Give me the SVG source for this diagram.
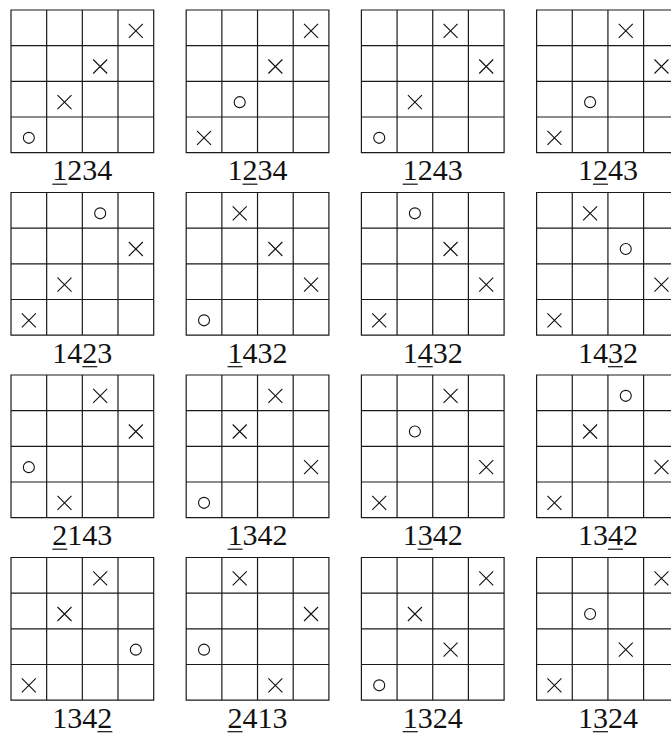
<svg xmlns="http://www.w3.org/2000/svg" width="671" height="734" viewBox="0 0 671 734">
<style>
.grid{fill:none;stroke:#1a1a1a;stroke-width:1.2}
.mk{fill:none;stroke:#111;stroke-width:1.1}
text{font-family:'Liberation Serif','DejaVu Serif',serif;font-size:30px;fill:#111;text-anchor:middle}
.ul{stroke:#111;stroke-width:1.2}
</style>
<defs>
<path id="g" class="grid" d="M0,0H142.7V142.7H0Z M35.67,0V142.7 M71.33,0V142.7 M107,0V142.7 M0,35.67H142.7 M0,71.33H142.7 M0,107H142.7"/>
<path id="x" class="mk" d="M-7,-7L7,7M-7,7L7,-7"/>
<circle id="o" class="mk" r="5.5"/>
</defs>
<rect width="671" height="734" fill="#fff"/>

<g id="p1" transform="translate(11,10)"><use href="#g"/>
<use href="#x" x="124.83" y="20.83"/><use href="#x" x="89.17" y="56.5"/><use href="#x" x="53.5" y="92.17"/><use href="#o" x="17.83" y="127.83"/>
<text font-family="Liberation Serif" x="71.33" y="170.2">1234</text><line class="ul" x1="41.33" y1="174.2" x2="56.33" y2="174.2"/></g>

<g id="p2" transform="translate(186.2,10)"><use href="#g"/>
<use href="#x" x="124.83" y="20.83"/><use href="#x" x="89.17" y="56.5"/><use href="#o" x="53.5" y="92.17"/><use href="#x" x="17.83" y="127.83"/>
<text font-family="Liberation Serif" x="71.33" y="170.2">1234</text><line class="ul" x1="56.33" y1="174.2" x2="71.33" y2="174.2"/></g>

<g id="p3" transform="translate(361.4,10)"><use href="#g"/>
<use href="#x" x="89.17" y="20.83"/><use href="#x" x="124.83" y="56.5"/><use href="#x" x="53.5" y="92.17"/><use href="#o" x="17.83" y="127.83"/>
<text font-family="Liberation Serif" x="71.33" y="170.2">1243</text><line class="ul" x1="41.33" y1="174.2" x2="56.33" y2="174.2"/></g>

<g id="p4" transform="translate(536.6,10)"><use href="#g"/>
<use href="#x" x="89.17" y="20.83"/><use href="#x" x="124.83" y="56.5"/><use href="#o" x="53.5" y="92.17"/><use href="#x" x="17.83" y="127.83"/>
<text font-family="Liberation Serif" x="71.33" y="170.2">1243</text><line class="ul" x1="56.33" y1="174.2" x2="71.33" y2="174.2"/></g>

<g id="p5" transform="translate(11,192.5)"><use href="#g"/>
<use href="#o" x="89.17" y="20.83"/><use href="#x" x="124.83" y="56.5"/><use href="#x" x="53.5" y="92.17"/><use href="#x" x="17.83" y="127.83"/>
<text font-family="Liberation Serif" x="71.33" y="170.2">1423</text><line class="ul" x1="71.33" y1="174.2" x2="86.33" y2="174.2"/></g>

<g id="p6" transform="translate(186.2,192.5)"><use href="#g"/>
<use href="#x" x="53.5" y="20.83"/><use href="#x" x="89.17" y="56.5"/><use href="#x" x="124.83" y="92.17"/><use href="#o" x="17.83" y="127.83"/>
<text font-family="Liberation Serif" x="71.33" y="170.2">1432</text><line class="ul" x1="41.33" y1="174.2" x2="56.33" y2="174.2"/></g>

<g id="p7" transform="translate(361.4,192.5)"><use href="#g"/>
<use href="#o" x="53.5" y="20.83"/><use href="#x" x="89.17" y="56.5"/><use href="#x" x="124.83" y="92.17"/><use href="#x" x="17.83" y="127.83"/>
<text font-family="Liberation Serif" x="71.33" y="170.2">1432</text><line class="ul" x1="56.33" y1="174.2" x2="71.33" y2="174.2"/></g>

<g id="p8" transform="translate(536.6,192.5)"><use href="#g"/>
<use href="#x" x="53.5" y="20.83"/><use href="#o" x="89.17" y="56.5"/><use href="#x" x="124.83" y="92.17"/><use href="#x" x="17.83" y="127.83"/>
<text font-family="Liberation Serif" x="71.33" y="170.2">1432</text><line class="ul" x1="71.33" y1="174.2" x2="86.33" y2="174.2"/></g>

<g id="p9" transform="translate(11,375)"><use href="#g"/>
<use href="#x" x="89.17" y="20.83"/><use href="#x" x="124.83" y="56.5"/><use href="#o" x="17.83" y="92.17"/><use href="#x" x="53.5" y="127.83"/>
<text font-family="Liberation Serif" x="71.33" y="170.2">2143</text><line class="ul" x1="41.33" y1="174.2" x2="56.33" y2="174.2"/></g>

<g id="p10" transform="translate(186.2,375)"><use href="#g"/>
<use href="#x" x="89.17" y="20.83"/><use href="#x" x="53.5" y="56.5"/><use href="#x" x="124.83" y="92.17"/><use href="#o" x="17.83" y="127.83"/>
<text font-family="Liberation Serif" x="71.33" y="170.2">1342</text><line class="ul" x1="41.33" y1="174.2" x2="56.33" y2="174.2"/></g>

<g id="p11" transform="translate(361.4,375)"><use href="#g"/>
<use href="#x" x="89.17" y="20.83"/><use href="#o" x="53.5" y="56.5"/><use href="#x" x="124.83" y="92.17"/><use href="#x" x="17.83" y="127.83"/>
<text font-family="Liberation Serif" x="71.33" y="170.2">1342</text><line class="ul" x1="56.33" y1="174.2" x2="71.33" y2="174.2"/></g>

<g id="p12" transform="translate(536.6,375)"><use href="#g"/>
<use href="#o" x="89.17" y="20.83"/><use href="#x" x="53.5" y="56.5"/><use href="#x" x="124.83" y="92.17"/><use href="#x" x="17.83" y="127.83"/>
<text font-family="Liberation Serif" x="71.33" y="170.2">1342</text><line class="ul" x1="71.33" y1="174.2" x2="86.33" y2="174.2"/></g>

<g id="p13" transform="translate(11,557.5)"><use href="#g"/>
<use href="#x" x="89.17" y="20.83"/><use href="#x" x="53.5" y="56.5"/><use href="#o" x="124.83" y="92.17"/><use href="#x" x="17.83" y="127.83"/>
<text font-family="Liberation Serif" x="71.33" y="170.2">1342</text><line class="ul" x1="86.33" y1="174.2" x2="101.33" y2="174.2"/></g>

<g id="p14" transform="translate(186.2,557.5)"><use href="#g"/>
<use href="#x" x="53.5" y="20.83"/><use href="#x" x="124.83" y="56.5"/><use href="#o" x="17.83" y="92.17"/><use href="#x" x="89.17" y="127.83"/>
<text font-family="Liberation Serif" x="71.33" y="170.2">2413</text><line class="ul" x1="41.33" y1="174.2" x2="56.33" y2="174.2"/></g>

<g id="p15" transform="translate(361.4,557.5)"><use href="#g"/>
<use href="#x" x="124.83" y="20.83"/><use href="#x" x="53.5" y="56.5"/><use href="#x" x="89.17" y="92.17"/><use href="#o" x="17.83" y="127.83"/>
<text font-family="Liberation Serif" x="71.33" y="170.2">1324</text><line class="ul" x1="41.33" y1="174.2" x2="56.33" y2="174.2"/></g>

<g id="p16" transform="translate(536.6,557.5)"><use href="#g"/>
<use href="#x" x="124.83" y="20.83"/><use href="#o" x="53.5" y="56.5"/><use href="#x" x="89.17" y="92.17"/><use href="#x" x="17.83" y="127.83"/>
<text font-family="Liberation Serif" x="71.33" y="170.2">1324</text><line class="ul" x1="56.33" y1="174.2" x2="71.33" y2="174.2"/></g>

<g id="connectors"></g>
</svg>
